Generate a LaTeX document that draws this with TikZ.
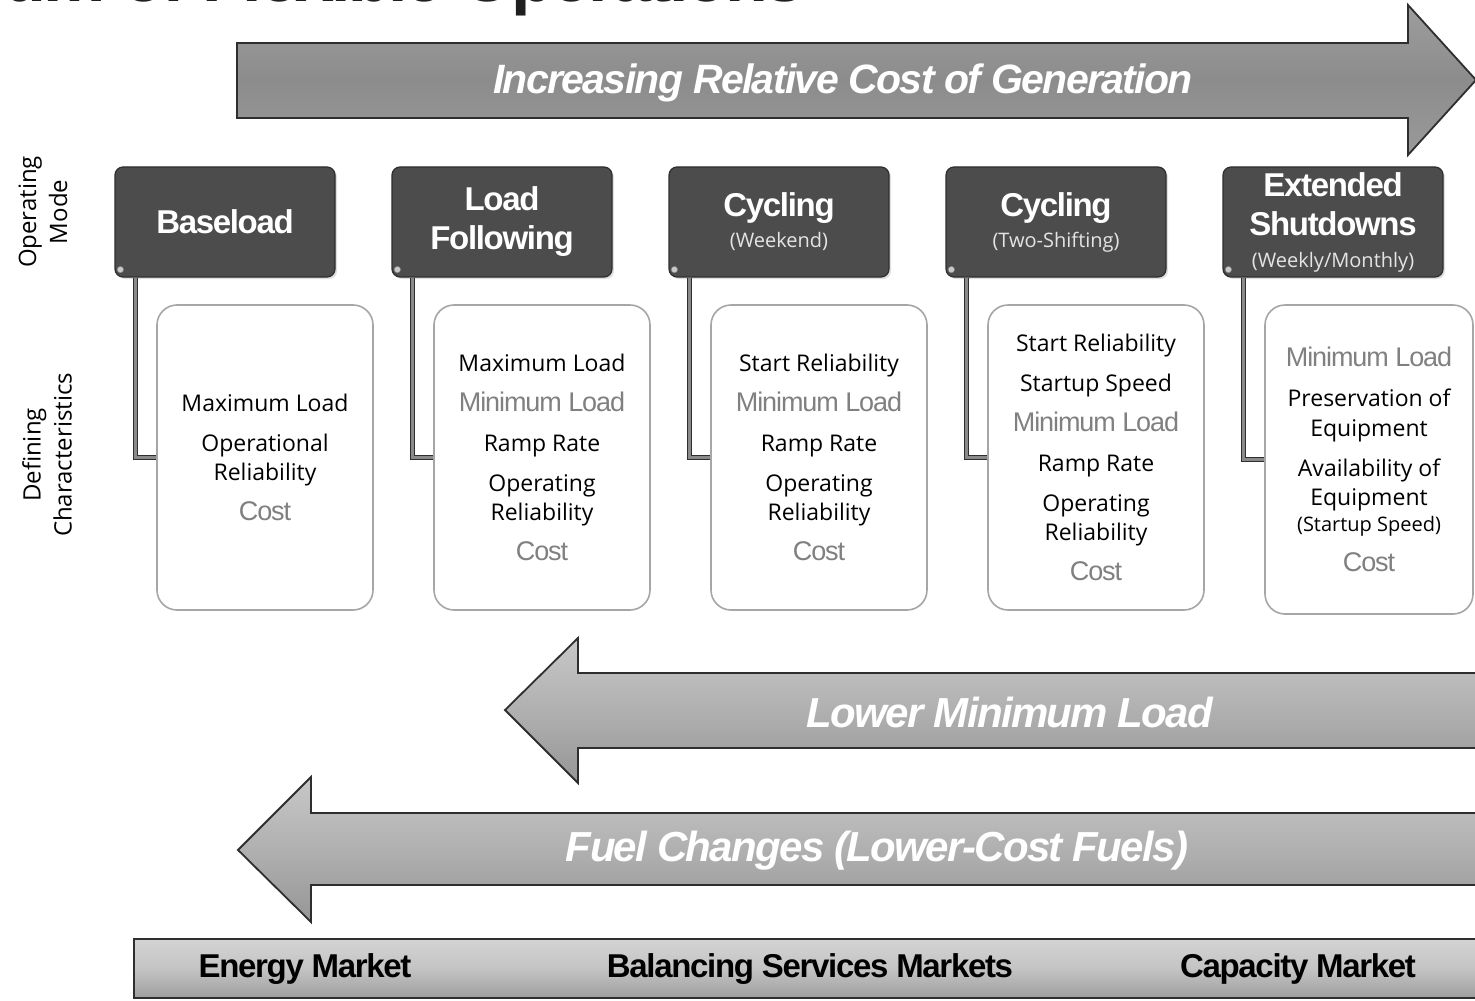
\documentclass[tikz,border=0pt]{standalone}
\usepackage{fontspec}
\setmainfont{Open Sans}
\newfontfamily\hfont[LetterSpace=-4]{Liberation Sans}
\usetikzlibrary{shadows}

\definecolor{hdrdark}{HTML}{4C4C4C}
\definecolor{edge}{HTML}{2E2E2E}
\definecolor{topband}{HTML}{8C8C8C}
\definecolor{lowband}{HTML}{B0B0B0}
\definecolor{softgray}{HTML}{808080}
\definecolor{subgray}{HTML}{E4E4E4}
\definecolor{boxedge}{HTML}{A6A6A6}
\definecolor{connmid}{HTML}{8A8A8A}
\definecolor{dotgray}{HTML}{C8C8C8}

\newcommand\softitem[1]{{\hfont\fontsize{13.5}{14.75}\selectfont\color{softgray}#1}}
\newcommand\subline[1]{{\normalfont\fontsize{10}{12}\selectfont\color{subgray}#1}}
\newcommand\smallline[1]{{\fontsize{10}{12}\selectfont #1}}

\tikzset{
  hdr/.style={draw=edge, line width=0.6pt, rounded corners=4pt, fill=hdrdark,
    minimum width=110pt, minimum height=55pt, inner sep=0pt, align=center,
    text=white, font=\hfont\bfseries\fontsize{16.5}{19.5}\selectfont,
    drop shadow={opacity=0.25, shadow xshift=1pt, shadow yshift=-1pt}},
  charbox/.style={draw=boxedge, line width=0.8pt, rounded corners=10pt, fill=white,
    minimum width=108pt, minimum height=152.5pt, inner sep=0pt, align=center,
    font=\fontsize{11.5}{14.75}\selectfont},
  conn/.style={draw=edge, double=connmid, double distance=1.2pt, line width=0.5pt},
  knot/.style={fill=dotgray, draw=edge!60, line width=0.2pt},
  sidelabel/.style={rotate=90, align=center, font=\fontsize{12}{15.5}\selectfont},
  toparrow/.style={draw=edge, line width=0.9pt, top color=topband!85, bottom color=topband!110!black, middle color=topband},
  lowarrow/.style={draw=edge, line width=0.9pt, top color=lowband!70, bottom color=lowband!85!black, middle color=lowband},
  arrowtext/.style={text=white, font=\hfont\bfseries\itshape\fontsize{21}{24}\selectfont},
  bartext/.style={text=black, font=\hfont\bfseries\fontsize{16.5}{19}\selectfont},
}

\begin{document}
\begin{tikzpicture}[x=0.5pt, y=-0.5pt]
\useasboundingbox (0,0) rectangle (1475,1000);
\fill[white] (0,0) rectangle (1475,1000);

% title, running off the top of the page
\node[anchor=base east, inner sep=0pt, text=black!88,
      font=\hfont\bfseries\fontsize{35}{40}\selectfont] (title) at (805,2)
  {Spectrum of Flexible Operations};

% rising cost arrow
\path[toparrow] (237,43) -- (1408,43) -- (1408,5) -- (1476,80) -- (1408,155)
  -- (1408,118) -- (237,118) -- cycle;
\node[arrowtext, font=\hfont\bfseries\itshape\fontsize{20.5}{24}\selectfont] (costtxt) at (843,83)
  {Increasing Relative Cost of Generation};

% side labels
\node[sidelabel] (lblmode) at (43,212) {Operating\\Mode};
\node[sidelabel] (lblchar) at (47,455) {Defining\\Characteristics};

% operating modes
\node[hdr] (h1) at (225,222) {Baseload};
\node[hdr] (h2) at (502,222) {Load\\Following};
\node[hdr] (h3) at (779,222) {Cycling\\[-4pt]\subline{(Weekend)}};
\node[hdr] (h4) at (1056,222) {Cycling\\[-4pt]\subline{(Two-Shifting)}};
\node[hdr] (h5) at (1333,222) {Extended\\Shutdowns\\[-3.5pt]\subline{(Weekly/Monthly)}};

% defining characteristics
\node[charbox] (c1) at (265,457.5)
  {Maximum Load\\[5.25pt]Operational\\Reliability\\[5.25pt]\softitem{Cost}};
\node[charbox] (c2) at (542,457.5)
  {Maximum Load\\[5.25pt]\softitem{Minimum Load}\\[5.25pt]Ramp Rate\\[5.25pt]Operating\\Reliability\\[5.25pt]\softitem{Cost}};
\node[charbox] (c3) at (819,457.5)
  {Start Reliability\\[5.25pt]\softitem{Minimum Load}\\[5.25pt]Ramp Rate\\[5.25pt]Operating\\Reliability\\[5.25pt]\softitem{Cost}};
\node[charbox] (c4) at (1096,457.5)
  {Start Reliability\\[5.25pt]Startup Speed\\[5.25pt]\softitem{Minimum Load}\\[5.25pt]Ramp Rate\\[5.25pt]Operating\\Reliability\\[5.25pt]\softitem{Cost}};
\node[charbox, minimum width=104pt, minimum height=154.5pt] (c5) at (1369,459.5)
  {\softitem{Minimum Load}\\[5.25pt]Preservation of\\Equipment\\[5.25pt]Availability of\\Equipment\\[-2pt]\smallline{(Startup Speed)}\\[5.25pt]\softitem{Cost}};

% elbow links from each mode to its characteristics
\foreach \i in {1,...,5} {
  \draw[conn] ([xshift=10.5pt]h\i.south west) |- (c\i.west);
  \path[knot] ([shift={(3pt,4pt)}]h\i.south west) circle[radius=1.6pt];
}

% leftward arrows
\path[lowarrow] (505,710) -- (578,638) -- (578,673) -- (1490,673) -- (1490,748)
  -- (578,748) -- (578,783) -- cycle;
\node[arrowtext] (mintxt) at (1010,712) {Lower Minimum Load};

\path[lowarrow] (238,850) -- (311,777) -- (311,813) -- (1490,813) -- (1490,885)
  -- (311,885) -- (311,922) -- cycle;
\node[arrowtext] (fueltxt) at (877,851) {Fuel Changes (Lower-Cost Fuels)};

% market bar
\path[draw=edge, line width=0.9pt, top color=lowband!55, bottom color=lowband!90!black,
      middle color=lowband!75] (134,939) rectangle (1490,998);
\node[bartext] (mkt1) at (305,969) {Energy Market};
\node[bartext] (mkt2) at (810,969) {Balancing Services Markets};
\node[bartext] (mkt3) at (1298,969) {Capacity Market};
\end{tikzpicture}
\end{document}
